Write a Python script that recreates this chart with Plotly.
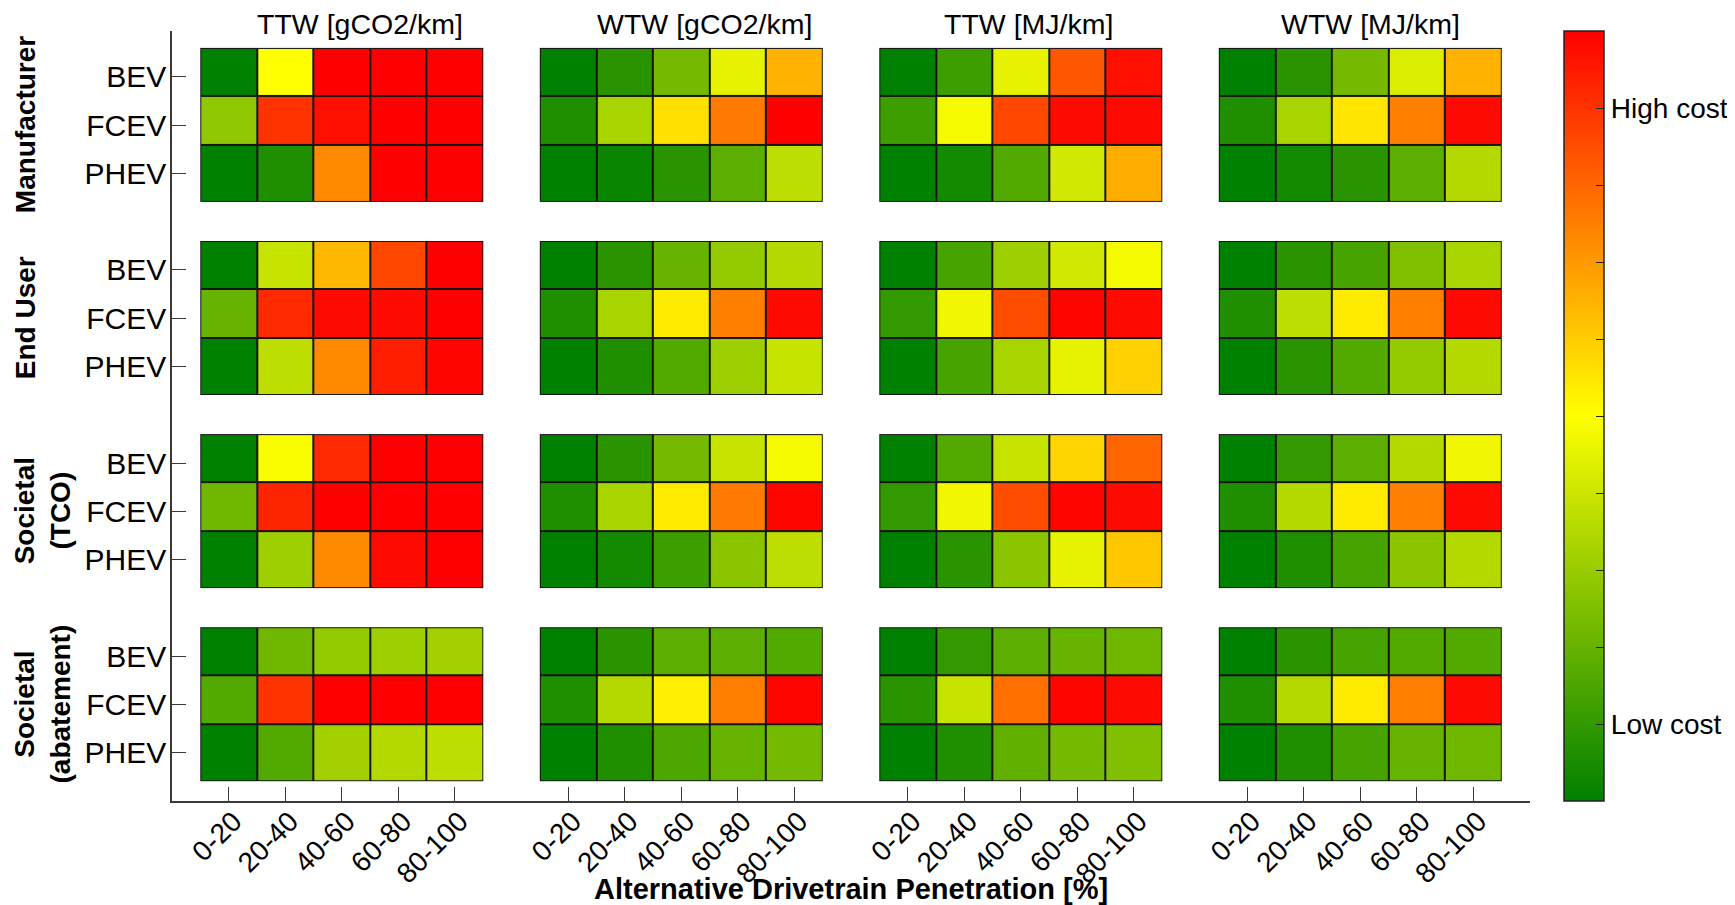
import plotly.graph_objects as go

# ---------------- data ----------------
groups = ["Manufacturer", "End User", "Societal<br>(TCO)", "Societal<br>(abatement)"]
metrics = ["TTW [gCO2/km]", "WTW [gCO2/km]", "TTW [MJ/km]", "WTW [MJ/km]"]
drivetrains = ["BEV", "FCEV", "PHEV"]
bins = ["0-20", "20-40", "40-60", "60-80", "80-100"]

# relative cost (0 = low cost, 1 = high cost)
# each row (BEV, FCEV, PHEV): 4 metrics x 5 penetration bins
manufacturer = [
    [0.00, 0.50, 1.00, 1.00, 1.00,  0.00, 0.08, 0.23, 0.45, 0.65,  0.00, 0.12, 0.45, 0.83, 0.97,  0.00, 0.08, 0.23, 0.43, 0.65],
    [0.28, 0.90, 0.97, 1.00, 1.00,  0.06, 0.33, 0.56, 0.76, 1.00,  0.12, 0.48, 0.86, 0.98, 0.98,  0.06, 0.33, 0.55, 0.75, 0.98],
    [0.00, 0.06, 0.73, 1.00, 1.00,  0.00, 0.02, 0.08, 0.18, 0.37,  0.00, 0.04, 0.16, 0.41, 0.66,  0.00, 0.04, 0.08, 0.18, 0.35],
]
end_user = [
    [0.00, 0.39, 0.64, 0.86, 1.00,  0.00, 0.08, 0.20, 0.29, 0.35,  0.00, 0.14, 0.31, 0.41, 0.48,  0.00, 0.08, 0.14, 0.25, 0.33],
    [0.20, 0.92, 0.98, 0.98, 1.00,  0.06, 0.33, 0.54, 0.75, 0.98,  0.10, 0.47, 0.85, 0.99, 0.98,  0.06, 0.37, 0.54, 0.75, 0.98],
    [0.00, 0.37, 0.73, 0.94, 0.99,  0.00, 0.06, 0.16, 0.31, 0.39,  0.00, 0.14, 0.33, 0.45, 0.59,  0.00, 0.08, 0.16, 0.29, 0.35],
]
societal_tco = [
    [0.00, 0.49, 0.92, 1.00, 1.00,  0.00, 0.08, 0.23, 0.39, 0.48,  0.00, 0.16, 0.39, 0.58, 0.80,  0.00, 0.10, 0.18, 0.35, 0.47],
    [0.22, 0.93, 1.00, 1.00, 1.00,  0.06, 0.33, 0.54, 0.76, 0.99,  0.10, 0.47, 0.85, 0.99, 0.98,  0.06, 0.35, 0.54, 0.75, 0.98],
    [0.00, 0.31, 0.73, 0.98, 1.00,  0.00, 0.04, 0.12, 0.27, 0.37,  0.00, 0.08, 0.27, 0.45, 0.61,  0.00, 0.06, 0.14, 0.27, 0.35],
]
societal_abatement = [
    [0.00, 0.22, 0.29, 0.31, 0.32,  0.00, 0.08, 0.18, 0.18, 0.16,  0.00, 0.10, 0.18, 0.20, 0.22,  0.00, 0.08, 0.14, 0.16, 0.16],
    [0.16, 0.90, 1.00, 1.00, 1.00,  0.06, 0.35, 0.53, 0.75, 0.99,  0.08, 0.39, 0.78, 0.99, 0.98,  0.06, 0.35, 0.54, 0.75, 0.98],
    [0.00, 0.16, 0.32, 0.35, 0.37,  0.00, 0.06, 0.15, 0.20, 0.23,  0.00, 0.06, 0.19, 0.23, 0.25,  0.00, 0.06, 0.14, 0.20, 0.22],
]
group_values = [manufacturer, end_user, societal_tco, societal_abatement]

colorbar_ticks = [0.0, 0.1, 0.2, 0.3, 0.4, 0.5, 0.6, 0.7, 0.8, 0.9, 1.0]
colorbar_text = ["", "Low cost", "", "", "", "", "", "", "", "High cost", ""]

# ---------------- figure ----------------
FONT = "Liberation Sans, Arial, Helvetica, sans-serif"
OFF = 8                      # default page body margin
W, H = 1735 - OFF, 905 - OFF
L, T = 172 - OFF, 31 - OFF
R = W - (1530 - OFF)
B = H - (801 - OFF)
pw, ph = W - L - R, H - T - B


def px_x(page_x):
    return (page_x - OFF - L) / pw


def px_y(page_y):
    return (H - B - (page_y - OFF)) / ph


nb = len(bins)
col_step = nb + 1          # one empty column between metric blocks
row_step = len(drivetrains) + 1

fig = go.Figure()

for g, vals in enumerate(group_values):
    y_edges = [row_step * g - 0.6, row_step * g + 0.4, row_step * g + 1.4, row_step * g + 2.6]
    for m in range(len(metrics)):
        x_edges = [col_step * m + c - 0.5 for c in range(nb + 1)]
        z = [row[m * nb:(m + 1) * nb] for row in vals]
        # dark underlay -> visible as cell borders through the gaps
        fig.add_trace(go.Heatmap(
            x=x_edges, y=y_edges, z=[[0] * nb for _ in z],
            colorscale=[[0, "#151515"], [1, "#151515"]], zmin=0, zmax=1,
            showscale=False, hoverinfo="skip"))
        fig.add_trace(go.Heatmap(
            x=x_edges, y=y_edges, z=z, coloraxis="coloraxis",
            xgap=2, ygap=2,
            hovertemplate=f"{metrics[m]}<br>%{{z:.2f}}<extra></extra>"))

x_tickvals = [col_step * m + c for m in range(len(metrics)) for c in range(nb)]
x_ticktext = [b for _ in metrics for b in bins]
y_tickvals = [row_step * g + r for g in range(len(groups)) for r in range(len(drivetrains))]
y_ticktext = [d for _ in groups for d in drivetrains]

axis_color = "#3a3a3a"
fig.update_layout(
    width=W, height=H,
    margin=dict(l=L, r=R, t=T, b=B, autoexpand=False),
    paper_bgcolor="white", plot_bgcolor="white",
    font=dict(family=FONT, size=29, color="black"),
    showlegend=False,
    xaxis=dict(range=[-1, col_step * len(metrics) - 1], tickvals=x_tickvals, ticktext=x_ticktext,
               tickangle=-45, ticks="inside", ticklen=14, tickwidth=1.2, tickcolor=axis_color,
               showline=True, linecolor=axis_color, linewidth=1.5, showgrid=False, zeroline=False,
               tickfont=dict(size=28), ticklabelstandoff=-9, ticklabelshift=5, fixedrange=True),
    yaxis=dict(range=[row_step * len(groups) - 1.0, -0.95], tickvals=y_tickvals, ticktext=y_ticktext,
               ticks="inside", ticklen=14, tickwidth=1.2, tickcolor=axis_color,
               showline=True, linecolor=axis_color, linewidth=1.5, showgrid=False, zeroline=False,
               tickfont=dict(size=30), ticklabelstandoff=-2, fixedrange=True),
    coloraxis=dict(
        colorscale=[[0.0, "rgb(0,128,0)"], [0.5, "rgb(255,255,0)"], [1.0, "rgb(255,0,0)"]],
        cmin=0, cmax=1,
        colorbar=dict(
            x=px_x(1564), xanchor="left", y=0.5, yanchor="middle",
            len=1.0, lenmode="fraction", thickness=40, thicknessmode="pixels",
            xpad=0, ypad=0, outlinewidth=1.5, outlinecolor="#222",
            tickmode="array", tickvals=colorbar_ticks, ticktext=colorbar_text,
            ticks="inside", ticklen=8, tickcolor="#222", tickwidth=1.2,
            tickfont=dict(size=28, family=FONT, color="black"),
        ),
    ),
)

annotations = []
# metric block titles (page-pixel nudges to match the reference placement)
title_dx = [18, 23, 8, 10]
for m, name in enumerate(metrics):
    annotations.append(dict(
        text=name, xref="x", x=col_step * m + (nb - 1) / 2, xshift=title_dx[m],
        yref="paper", y=px_y(24),
        yanchor="middle", xanchor="center", showarrow=False, font=dict(size=28.5, family=FONT)))
# group labels (rotated, bold)
for g, name in enumerate(groups):
    two_line = "<br>" in name
    page_x = 42 if two_line else 25
    annotations.append(dict(
        text=f"<b>{name}</b>", xref="paper", x=px_x(page_x), yref="y", y=row_step * g + 1,
        xanchor="center", yanchor="middle", textangle=-90, showarrow=False,
        font=dict(size=28, family=FONT)))
# x axis title
annotations.append(dict(
    text="<b>Alternative Drivetrain Penetration [%]</b>", xref="paper", x=0.5,
    yref="paper", y=px_y(889), xanchor="center", yanchor="middle",
    showarrow=False, font=dict(size=29, family=FONT)))
fig.update_layout(annotations=annotations)

fig.write_html("out.html")
